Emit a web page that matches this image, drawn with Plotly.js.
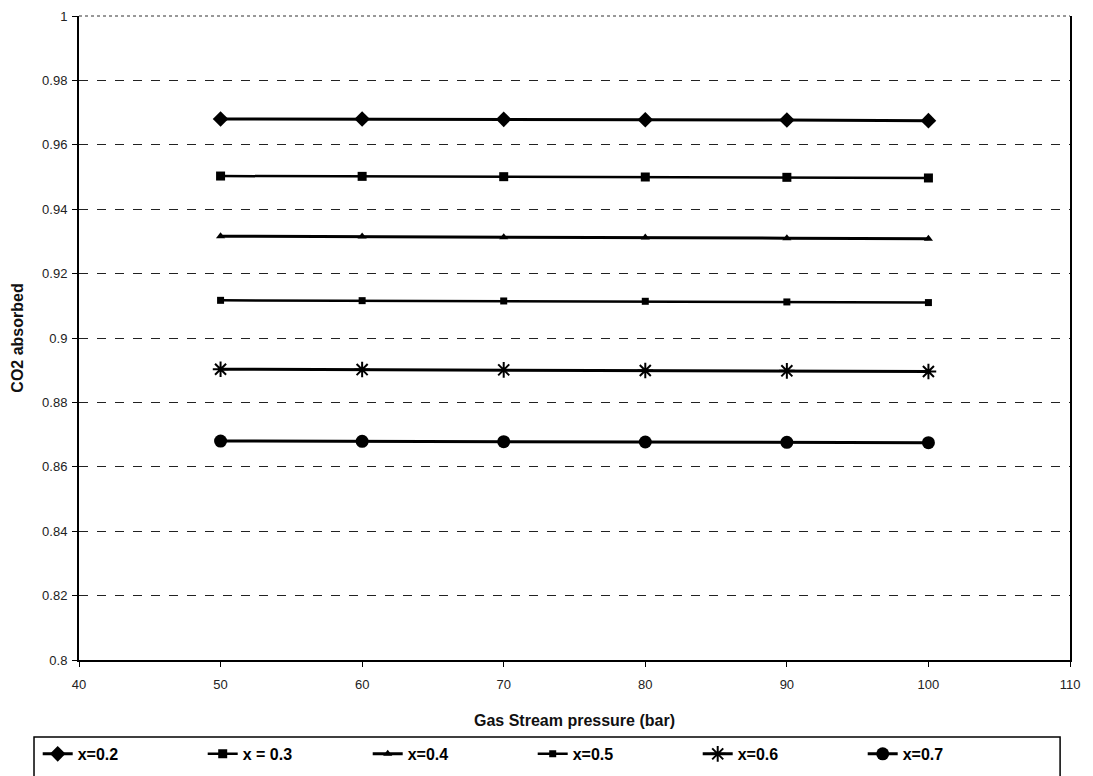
<!DOCTYPE html>
<html>
<head>
<meta charset="utf-8">
<script src="https://cdn.plot.ly/plotly-3.0.1.min.js"></script>
<style>html,body{margin:0;padding:0;background:#fff;}#chart{width:1093px;height:776px;}</style>
</head>
<body>
<div id="chart"></div>
<script>
const pressure = [50, 60, 70, 80, 90, 100];
const seriesNames = ["x=0.2", "x = 0.3", "x=0.4", "x=0.5", "x=0.6", "x=0.7"];
const x02 = [0.9680, 0.9680, 0.9679, 0.9678, 0.9677, 0.9675];
const x03 = [0.9503, 0.9502, 0.9501, 0.9500, 0.9499, 0.9497];
const x04 = [0.9316, 0.9315, 0.9313, 0.9312, 0.9310, 0.9308];
const x05 = [0.9117, 0.9116, 0.9115, 0.9114, 0.9112, 0.9110];
const x06 = [0.8903, 0.8902, 0.8901, 0.8899, 0.8898, 0.8896];
const x07 = [0.8680, 0.8679, 0.8678, 0.8677, 0.8676, 0.8675];
const yTicks = [0.8, 0.82, 0.84, 0.86, 0.88, 0.9, 0.92, 0.94, 0.96, 0.98, 1];
const xTicks = [40, 50, 60, 70, 80, 90, 100, 110];

const values = [x02, x03, x04, x05, x06, x07];
const symbols = ["diamond", "square", "triangle-up", "square", "asterisk-open", "circle"];
const sizes = [12, 9, 8, 7, 13, 13];
const widths = [3, 2.5, 3, 2.5, 3, 3];

const traces = values.map((v, i) => ({
  x: pressure, y: v, name: seriesNames[i], type: "scatter", mode: "lines+markers",
  line: {color: "#000", width: widths[i]},
  marker: {symbol: symbols[i], size: sizes[i], color: "#000", line: {color: "#000", width: symbols[i] === "asterisk-open" ? 2 : 0}}
}));

const font = "Liberation Sans, Arial, sans-serif";
const layout = {
  width: 1093, height: 776,
  margin: {l: 79, r: 23, t: 16, b: 116},
  paper_bgcolor: "#fff", plot_bgcolor: "#fff",
  font: {family: font, color: "#000", size: 13},
  showlegend: true,
  xaxis: {
    range: [40, 110], tickvals: xTicks, ticktext: xTicks.map(String),
    showgrid: false, zeroline: false, showline: true, linecolor: "#000", linewidth: 2,
    ticks: "outside", ticklen: 5, tickcolor: "#000", ticklabelstandoff: 6,
    tickfont: {family: font, size: 13, color: "#222"},
    title: {text: "Gas Stream pressure (bar)", font: {family: font, size: 16, color: "#111", weight: "bold"}, standoff: 24}
  },
  yaxis: {
    range: [0.8, 1], tickvals: yTicks, ticktext: yTicks.map(String),
    showgrid: true, gridcolor: "#222", griddash: "dash", gridwidth: 1,
    zeroline: false, showline: true, linecolor: "#000", linewidth: 2, mirror: true,
    ticks: "outside", ticklen: 5, tickcolor: "#000", ticklabelstandoff: 2,
    tickfont: {family: font, size: 13, color: "#222"},
    title: {text: "CO2 absorbed", font: {family: font, size: 16, color: "#111", weight: "bold"}, standoff: 14}
  },
  legend: {
    orientation: "h", xref: "container", yref: "container",
    x: 0.0345, xanchor: "left", y: 0.0503, yanchor: "top",
    bgcolor: "rgba(0,0,0,0)", borderwidth: 0,
    entrywidth: 120, entrywidthmode: "pixels", itemwidth: 30,
    font: {family: font, size: 16, color: "#000", weight: "bold"}
  },
  shapes: [
    {type: "line", xref: "paper", yref: "paper", x0: 0, x1: 1, y0: 1, y1: 1, line: {color: "#333", width: 1, dash: "dot"}},
    {type: "rect", xref: "paper", yref: "paper", x0: -0.0454, x1: 0.99, y0: -0.1196, y1: -0.185, line: {color: "#000", width: 1.5}, fillcolor: "rgba(0,0,0,0)", layer: "below"}
  ]
};
Plotly.newPlot("chart", traces, layout, {displayModeBar: false, staticPlot: true});
</script>
</body>
</html>
